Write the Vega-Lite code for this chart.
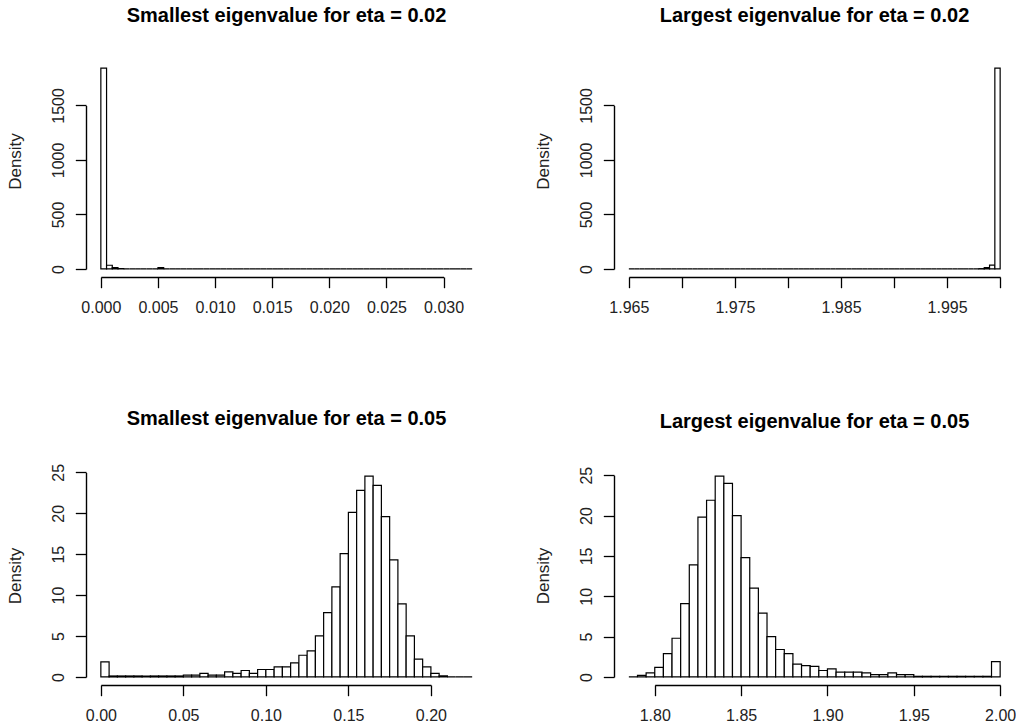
{
  "$schema": "https://vega.github.io/schema/vega-lite/v6.json",
  "background": "white",
  "padding": {"left": 6, "top": 6, "right": 0, "bottom": 0},
  "bounds": "flush",
  "spacing": {"row": 191, "column": 127},
  "columns": 2,
  "datasets": {
    "tl": [
      {"x0":0,"x1":0.0005,"d":1843},{"x0":0.0005,"x1":0.001,"d":34},{"x0":0.001,"x1":0.0015,"d":12},{"x0":0.0015,"x1":0.002,"d":3},
      {"x0":0.002,"x1":0.0025,"d":0},{"x0":0.0025,"x1":0.003,"d":0},{"x0":0.003,"x1":0.0035,"d":0},{"x0":0.0035,"x1":0.004,"d":0},
      {"x0":0.004,"x1":0.0045,"d":0},{"x0":0.0045,"x1":0.005,"d":0},{"x0":0.005,"x1":0.0055,"d":12},
      {"x0":0.0055,"x1":0.006,"d":0},{"x0":0.006,"x1":0.0065,"d":0},{"x0":0.0065,"x1":0.007,"d":0},{"x0":0.007,"x1":0.0075,"d":0},
      {"x0":0.0075,"x1":0.008,"d":0},{"x0":0.008,"x1":0.0085,"d":0},{"x0":0.0085,"x1":0.009,"d":0},{"x0":0.009,"x1":0.0095,"d":0},
      {"x0":0.0095,"x1":0.01,"d":0},{"x0":0.01,"x1":0.0105,"d":0},{"x0":0.0105,"x1":0.011,"d":0},{"x0":0.011,"x1":0.0115,"d":0},
      {"x0":0.0115,"x1":0.012,"d":0},{"x0":0.012,"x1":0.0125,"d":0},{"x0":0.0125,"x1":0.013,"d":0},{"x0":0.013,"x1":0.0135,"d":0},
      {"x0":0.0135,"x1":0.014,"d":0},{"x0":0.014,"x1":0.0145,"d":0},{"x0":0.0145,"x1":0.015,"d":0},{"x0":0.015,"x1":0.0155,"d":0},
      {"x0":0.0155,"x1":0.016,"d":0},{"x0":0.016,"x1":0.0165,"d":0},{"x0":0.0165,"x1":0.017,"d":0},{"x0":0.017,"x1":0.0175,"d":0},
      {"x0":0.0175,"x1":0.018,"d":0},{"x0":0.018,"x1":0.0185,"d":0},{"x0":0.0185,"x1":0.019,"d":0},{"x0":0.019,"x1":0.0195,"d":0},
      {"x0":0.0195,"x1":0.02,"d":0},{"x0":0.02,"x1":0.0205,"d":0},{"x0":0.0205,"x1":0.021,"d":0},{"x0":0.021,"x1":0.0215,"d":0},
      {"x0":0.0215,"x1":0.022,"d":0},{"x0":0.022,"x1":0.0225,"d":0},{"x0":0.0225,"x1":0.023,"d":0},{"x0":0.023,"x1":0.0235,"d":0},
      {"x0":0.0235,"x1":0.024,"d":0},{"x0":0.024,"x1":0.0245,"d":0},{"x0":0.0245,"x1":0.025,"d":0},{"x0":0.025,"x1":0.0255,"d":0},
      {"x0":0.0255,"x1":0.026,"d":0},{"x0":0.026,"x1":0.0265,"d":0},{"x0":0.0265,"x1":0.027,"d":0},{"x0":0.027,"x1":0.0275,"d":0},
      {"x0":0.0275,"x1":0.028,"d":0},{"x0":0.028,"x1":0.0285,"d":0},{"x0":0.0285,"x1":0.029,"d":0},{"x0":0.029,"x1":0.0295,"d":0},
      {"x0":0.0295,"x1":0.03,"d":0},{"x0":0.03,"x1":0.0305,"d":0},{"x0":0.0305,"x1":0.031,"d":0},{"x0":0.031,"x1":0.0315,"d":0},
      {"x0":0.0315,"x1":0.032,"d":0},{"x0":0.032,"x1":0.0325,"d":0}
    ],
    "tr": [
      {"x0":1.965,"x1":1.9655,"d":0},{"x0":1.9655,"x1":1.966,"d":0},{"x0":1.966,"x1":1.9665,"d":0},{"x0":1.9665,"x1":1.967,"d":0},
      {"x0":1.967,"x1":1.9675,"d":0},{"x0":1.9675,"x1":1.968,"d":0},{"x0":1.968,"x1":1.9685,"d":0},{"x0":1.9685,"x1":1.969,"d":0},
      {"x0":1.969,"x1":1.9695,"d":0},{"x0":1.9695,"x1":1.97,"d":0},{"x0":1.97,"x1":1.9705,"d":0},{"x0":1.9705,"x1":1.971,"d":0},
      {"x0":1.971,"x1":1.9715,"d":0},{"x0":1.9715,"x1":1.972,"d":0},{"x0":1.972,"x1":1.9725,"d":0},{"x0":1.9725,"x1":1.973,"d":0},
      {"x0":1.973,"x1":1.9735,"d":0},{"x0":1.9735,"x1":1.974,"d":0},{"x0":1.974,"x1":1.9745,"d":0},{"x0":1.9745,"x1":1.975,"d":0},
      {"x0":1.975,"x1":1.9755,"d":0},{"x0":1.9755,"x1":1.976,"d":0},{"x0":1.976,"x1":1.9765,"d":0},{"x0":1.9765,"x1":1.977,"d":0},
      {"x0":1.977,"x1":1.9775,"d":0},{"x0":1.9775,"x1":1.978,"d":0},{"x0":1.978,"x1":1.9785,"d":0},{"x0":1.9785,"x1":1.979,"d":0},
      {"x0":1.979,"x1":1.9795,"d":0},{"x0":1.9795,"x1":1.98,"d":0},{"x0":1.98,"x1":1.9805,"d":0},{"x0":1.9805,"x1":1.981,"d":0},
      {"x0":1.981,"x1":1.9815,"d":0},{"x0":1.9815,"x1":1.982,"d":0},{"x0":1.982,"x1":1.9825,"d":0},{"x0":1.9825,"x1":1.983,"d":0},
      {"x0":1.983,"x1":1.9835,"d":0},{"x0":1.9835,"x1":1.984,"d":0},{"x0":1.984,"x1":1.9845,"d":0},{"x0":1.9845,"x1":1.985,"d":0},
      {"x0":1.985,"x1":1.9855,"d":0},{"x0":1.9855,"x1":1.986,"d":0},{"x0":1.986,"x1":1.9865,"d":0},{"x0":1.9865,"x1":1.987,"d":0},
      {"x0":1.987,"x1":1.9875,"d":0},{"x0":1.9875,"x1":1.988,"d":0},{"x0":1.988,"x1":1.9885,"d":0},{"x0":1.9885,"x1":1.989,"d":0},
      {"x0":1.989,"x1":1.9895,"d":0},{"x0":1.9895,"x1":1.99,"d":0},{"x0":1.99,"x1":1.9905,"d":0},{"x0":1.9905,"x1":1.991,"d":0},
      {"x0":1.991,"x1":1.9915,"d":0},{"x0":1.9915,"x1":1.992,"d":0},{"x0":1.992,"x1":1.9925,"d":0},{"x0":1.9925,"x1":1.993,"d":0},
      {"x0":1.993,"x1":1.9935,"d":0},{"x0":1.9935,"x1":1.994,"d":0},{"x0":1.994,"x1":1.9945,"d":0},{"x0":1.9945,"x1":1.995,"d":0},
      {"x0":1.995,"x1":1.9955,"d":0},{"x0":1.9955,"x1":1.996,"d":0},{"x0":1.996,"x1":1.9965,"d":0},{"x0":1.9965,"x1":1.997,"d":0},
      {"x0":1.997,"x1":1.9975,"d":0},{"x0":1.9975,"x1":1.998,"d":0},
      {"x0":1.998,"x1":1.9985,"d":3},{"x0":1.9985,"x1":1.999,"d":12},{"x0":1.999,"x1":1.9995,"d":35},{"x0":1.9995,"x1":2.0,"d":1843}
    ],
    "bl": [
      {"x0":0,"x1":0.005,"d":1.85},
      {"x0":0.005,"x1":0.01,"d":0.12},{"x0":0.01,"x1":0.015,"d":0.12},{"x0":0.015,"x1":0.02,"d":0.12},{"x0":0.02,"x1":0.025,"d":0.12},
      {"x0":0.025,"x1":0.03,"d":0.12},{"x0":0.03,"x1":0.035,"d":0.12},{"x0":0.035,"x1":0.04,"d":0.12},{"x0":0.04,"x1":0.045,"d":0.12},
      {"x0":0.045,"x1":0.05,"d":0.12},
      {"x0":0.05,"x1":0.055,"d":0.22},{"x0":0.055,"x1":0.06,"d":0.22},{"x0":0.06,"x1":0.065,"d":0.43},{"x0":0.065,"x1":0.07,"d":0.22},
      {"x0":0.07,"x1":0.075,"d":0.22},{"x0":0.075,"x1":0.08,"d":0.63},{"x0":0.08,"x1":0.085,"d":0.43},{"x0":0.085,"x1":0.09,"d":0.79},
      {"x0":0.09,"x1":0.095,"d":0.43},{"x0":0.095,"x1":0.1,"d":0.91},{"x0":0.1,"x1":0.105,"d":0.91},{"x0":0.105,"x1":0.11,"d":1.24},
      {"x0":0.11,"x1":0.115,"d":1.24},{"x0":0.115,"x1":0.12,"d":1.73},{"x0":0.12,"x1":0.125,"d":2.65},{"x0":0.125,"x1":0.13,"d":3.19},
      {"x0":0.13,"x1":0.135,"d":5.01},{"x0":0.135,"x1":0.14,"d":7.85},{"x0":0.14,"x1":0.145,"d":11.0},{"x0":0.145,"x1":0.15,"d":15.06},
      {"x0":0.15,"x1":0.155,"d":20.1},{"x0":0.155,"x1":0.16,"d":22.8},{"x0":0.16,"x1":0.165,"d":24.55},{"x0":0.165,"x1":0.17,"d":23.4},
      {"x0":0.17,"x1":0.175,"d":19.6},{"x0":0.175,"x1":0.18,"d":14.3},{"x0":0.18,"x1":0.185,"d":8.94},{"x0":0.185,"x1":0.19,"d":5.01},
      {"x0":0.19,"x1":0.195,"d":2.17},{"x0":0.195,"x1":0.2,"d":1.24},{"x0":0.2,"x1":0.205,"d":0.43},{"x0":0.205,"x1":0.21,"d":0.15},
      {"x0":0.21,"x1":0.215,"d":0},{"x0":0.215,"x1":0.22,"d":0},{"x0":0.22,"x1":0.225,"d":0}
    ],
    "br": [
      {"x0":1.785,"x1":1.79,"d":0},{"x0":1.79,"x1":1.795,"d":0.2},{"x0":1.795,"x1":1.8,"d":0.5},{"x0":1.8,"x1":1.805,"d":1.2},
      {"x0":1.805,"x1":1.81,"d":2.9},{"x0":1.81,"x1":1.815,"d":4.8},{"x0":1.815,"x1":1.82,"d":9.1},{"x0":1.82,"x1":1.825,"d":13.9},
      {"x0":1.825,"x1":1.83,"d":19.8},{"x0":1.83,"x1":1.835,"d":21.9},{"x0":1.835,"x1":1.84,"d":24.9},{"x0":1.84,"x1":1.845,"d":24.0},
      {"x0":1.845,"x1":1.85,"d":20.0},{"x0":1.85,"x1":1.855,"d":14.8},{"x0":1.855,"x1":1.86,"d":11.0},{"x0":1.86,"x1":1.865,"d":7.9},
      {"x0":1.865,"x1":1.87,"d":5.0},{"x0":1.87,"x1":1.875,"d":3.4},{"x0":1.875,"x1":1.88,"d":2.9},{"x0":1.88,"x1":1.885,"d":1.6},
      {"x0":1.885,"x1":1.89,"d":1.4},{"x0":1.89,"x1":1.895,"d":1.3},{"x0":1.895,"x1":1.9,"d":0.8},{"x0":1.9,"x1":1.905,"d":1.0},
      {"x0":1.905,"x1":1.91,"d":0.6},{"x0":1.91,"x1":1.915,"d":0.6},{"x0":1.915,"x1":1.92,"d":0.6},{"x0":1.92,"x1":1.925,"d":0.5},
      {"x0":1.925,"x1":1.93,"d":0.3},{"x0":1.93,"x1":1.935,"d":0.3},{"x0":1.935,"x1":1.94,"d":0.5},{"x0":1.94,"x1":1.945,"d":0.3},
      {"x0":1.945,"x1":1.95,"d":0.3},
      {"x0":1.95,"x1":1.955,"d":0.08},{"x0":1.955,"x1":1.96,"d":0.08},{"x0":1.96,"x1":1.965,"d":0.08},{"x0":1.965,"x1":1.97,"d":0.08},
      {"x0":1.97,"x1":1.975,"d":0.08},{"x0":1.975,"x1":1.98,"d":0.08},{"x0":1.98,"x1":1.985,"d":0.08},{"x0":1.985,"x1":1.99,"d":0.08},
      {"x0":1.99,"x1":1.995,"d":0.08},
      {"x0":1.995,"x1":2.0,"d":1.9}
    ]
  },
  "concat": [
    {
      "width": 401, "height": 217,
      "title": "Smallest eigenvalue for eta = 0.02",
      "data": {"name": "tl"},
      "mark": {"type": "rect", "fill": "white", "stroke": "black", "strokeWidth": 1.2},
      "encoding": {
        "x": {"field": "x0", "type": "quantitative",
              "scale": {"domain": [0, 0.03], "range": [14.85, 357.6], "nice": false, "zero": false},
              "axis": {"values": [0, 0.005, 0.01, 0.015, 0.02, 0.025, 0.03], "format": ".3f", "title": null}},
        "x2": {"field": "x1"},
        "y": {"field": "d", "type": "quantitative",
              "scale": {"domain": [0, 1500], "range": [208.97, 45.43], "nice": false, "zero": false},
              "axis": {"values": [0, 500, 1000, 1500], "format": "d", "title": "Density", "titleY": 101}},
        "y2": {"datum": 0}
      }
    },
    {
      "width": 401, "height": 217,
      "title": "Largest eigenvalue for eta = 0.02",
      "data": {"name": "tr"},
      "mark": {"type": "rect", "fill": "white", "stroke": "black", "strokeWidth": 1.2},
      "encoding": {
        "x": {"field": "x0", "type": "quantitative",
              "scale": {"domain": [1.965, 2.0], "range": [14.85, 386.15], "nice": false, "zero": false},
              "axis": {"values": [1.965, 1.97, 1.975, 1.98, 1.985, 1.99, 1.995, 2.0], "title": null,
                       "labelExpr": "(round(datum.value*1000) % 10 == 5) ? format(datum.value, '.3f') : ''"}},
        "x2": {"field": "x1"},
        "y": {"field": "d", "type": "quantitative",
              "scale": {"domain": [0, 1500], "range": [208.97, 45.43], "nice": false, "zero": false},
              "axis": {"values": [0, 500, 1000, 1500], "format": "d", "title": "Density", "titleY": 101}},
        "y2": {"datum": 0}
      }
    },
    {
      "width": 401, "height": 217,
      "title": "Smallest eigenvalue for eta = 0.05",
      "data": {"name": "bl"},
      "mark": {"type": "rect", "fill": "white", "stroke": "black", "strokeWidth": 1.2},
      "encoding": {
        "x": {"field": "x0", "type": "quantitative",
              "scale": {"domain": [0, 0.2], "range": [14.85, 344.9], "nice": false, "zero": false},
              "axis": {"values": [0, 0.05, 0.1, 0.15, 0.2], "format": ".2f", "title": null}},
        "x2": {"field": "x1"},
        "y": {"field": "d", "type": "quantitative",
              "scale": {"domain": [0, 25], "range": [208.96, 4.35], "nice": false, "zero": false},
              "axis": {"values": [0, 5, 10, 15, 20, 25], "format": "d", "title": "Density", "titleY": 107.5}},
        "y2": {"datum": 0}
      }
    },
    {
      "width": 401, "height": 217,
      "title": "Largest eigenvalue for eta = 0.05",
      "data": {"name": "br"},
      "mark": {"type": "rect", "fill": "white", "stroke": "black", "strokeWidth": 1.2},
      "encoding": {
        "x": {"field": "x0", "type": "quantitative",
              "scale": {"domain": [1.8, 2.0], "range": [40.76, 386.15], "nice": false, "zero": false},
              "axis": {"values": [1.8, 1.85, 1.9, 1.95, 2.0], "format": ".2f", "title": null}},
        "x2": {"field": "x1"},
        "y": {"field": "d", "type": "quantitative",
              "scale": {"domain": [0, 25], "range": [208.96, 7.23], "nice": false, "zero": false},
              "axis": {"values": [0, 5, 10, 15, 20, 25], "format": "d", "title": "Density", "titleY": 107.5}},
        "y2": {"datum": 0}
      }
    }
  ],
  "config": {
    "view": {"stroke": null},
    "font": "Liberation Sans",
    "title": {"fontSize": 20, "fontWeight": "bold", "font": "Liberation Sans", "anchor": "middle", "frame": "group", "baseline": "alphabetic", "offset": 34, "color": "black"},
    "axis": {
      "domain": true, "domainColor": "black", "domainWidth": 1.4, "grid": false, "ticks": true, "tickColor": "black", "tickSize": 10.7, "tickWidth": 1.3,
      "labelFont": "Liberation Sans", "labelFontSize": 16, "labelColor": "#222", "labelFlush": false, "labelOverlap": false,
      "titleFont": "Liberation Sans", "titleFontSize": 17, "titleFontWeight": "normal", "titleColor": "#222"
    },
    "axisX": {"labelPadding": 12, "labelBaseline": "top", "labelAngle": 0},
    "axisY": {"labelAngle": 270, "labelAlign": "center", "labelBaseline": "alphabetic", "labelPadding": 11.5,
              "titleX": -66, "titleAngle": 270, "titleAlign": "center", "titleBaseline": "alphabetic"}
  }
}
